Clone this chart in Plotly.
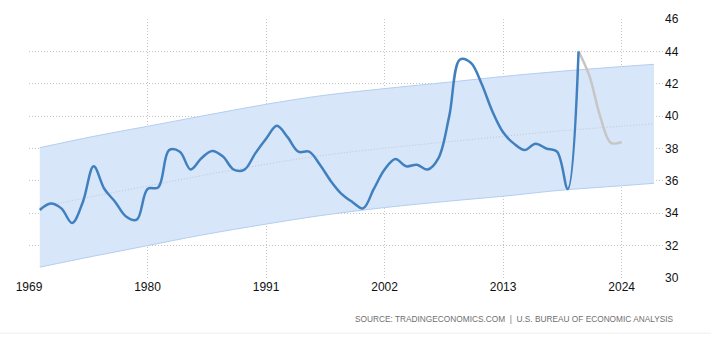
import plotly.graph_objects as go

# ---- data ----
hist_years = list(range(1970, 2021))
hist_values = [34.2, 34.6, 34.3, 33.4, 34.7, 36.9, 35.5, 34.7, 33.8, 33.6,
               35.5, 35.6, 37.9, 37.8, 36.7, 37.4, 37.85, 37.5, 36.7, 36.7,
               37.7, 38.6, 39.4, 38.7, 37.8, 37.8, 37.0, 36.0, 35.2, 34.7,
               34.3, 35.5, 36.7, 37.35, 36.9, 37.0, 36.7, 37.4, 40.0, 43.5,
               43.3, 42.0, 40.3, 39.0, 38.3, 37.9, 38.3, 38.0, 37.8, 35.5,
               44.0]

fc_years = [2020, 2021, 2022, 2023, 2024]
fc_values = [44.0, 42.5, 40.0, 38.35, 38.4]

band_years = [1970, 1975, 1980, 1985, 1991, 1996, 2002, 2008, 2013, 2018, 2024, 2027]
band_upper = [38.05, 38.75, 39.37, 40.0, 40.73, 41.25, 41.7, 42.1, 42.45, 42.75, 43.06, 43.2]
band_lower = [30.67, 31.35, 32.0, 32.65, 33.33, 33.85, 34.35, 34.75, 35.05, 35.4, 35.7, 35.85]
band_mid = [34.36, 35.05, 35.68, 36.32, 37.03, 37.55, 38.02, 38.42, 38.75, 39.07, 39.38, 39.52]

x_ticks = [1969, 1980, 1991, 2002, 2013, 2024]
x_tick_labels = ["1969", "1980", "1991", "2002", "2013", "2024"]
y_ticks = [30, 32, 34, 36, 38, 40, 42, 44, 46]
source_text = "SOURCE: TRADINGECONOMICS.COM  |  U.S. BUREAU OF ECONOMIC ANALYSIS"

FONT = "Liberation Sans, Arial, sans-serif"

fig = go.Figure()

fig.add_trace(go.Scatter(
    x=band_years, y=band_lower, mode="lines",
    line=dict(color="#b4cdf1", width=1, shape="spline"),
    hoverinfo="skip", showlegend=False))
fig.add_trace(go.Scatter(
    x=band_years, y=band_upper, mode="lines", fill="tonexty",
    fillcolor="#d8e6f9",
    line=dict(color="#b4cdf1", width=1, shape="spline"),
    hoverinfo="skip", showlegend=False))
fig.add_trace(go.Scatter(
    x=band_years, y=band_mid, mode="lines",
    line=dict(color="#c0c6d0", width=1, dash="1px,2px", shape="spline"),
    hoverinfo="skip", showlegend=False))

fig.add_trace(go.Scatter(
    x=fc_years, y=fc_values, mode="lines",
    line=dict(color="#c6c6c6", width=2.5, shape="spline", smoothing=1),
    showlegend=False))
fig.add_trace(go.Scatter(
    x=hist_years, y=hist_values, mode="lines",
    line=dict(color="#4180bf", width=2.5, shape="spline", smoothing=1),
    showlegend=False))

ML, MR, MT, MB = 29, 47, 15, 62
pw = 711 - ML - MR
ph = 340 - MT - MB

fig.update_layout(
    width=711, height=340,
    margin=dict(l=ML, r=MR, t=MT, b=MB),
    paper_bgcolor="white", plot_bgcolor="white",
    font=dict(family=FONT, size=12, color="#111111"),
    showlegend=False,
    xaxis=dict(
        range=[1969, 2027.93], tickvals=x_ticks, ticktext=x_tick_labels,
        showgrid=True, gridcolor="#c4c4c4", griddash="1px,2px", gridwidth=1,
        zeroline=False, showline=False, ticks="",
        tickfont=dict(family=FONT, size=12, color="#111111"),
    ),
    yaxis=dict(
        range=[30, 46], tickvals=y_ticks, side="right",
        showgrid=True, gridcolor="#c4c4c4", griddash="1px,2px", gridwidth=1,
        zeroline=False, showline=False, ticks="",
        tickfont=dict(family=FONT, size=12, color="#111111"),
    ),
    annotations=[dict(
        x=(676 - ML) / pw, y=(340 - MB - 320) / ph,
        xref="paper", yref="paper", text=source_text,
        showarrow=False, xanchor="right", yanchor="middle",
        font=dict(family=FONT, size=8.3, color="#6f6f6f"),
    )],
)

fig.add_shape(type="line", xref="paper", yref="paper",
              x0=-ML / pw, x1=(711 - ML) / pw,
              y0=(340 - MB - 334) / ph, y1=(340 - MB - 334) / ph,
              line=dict(color="#eeeeee", width=1))

fig.write_html("out.html")
